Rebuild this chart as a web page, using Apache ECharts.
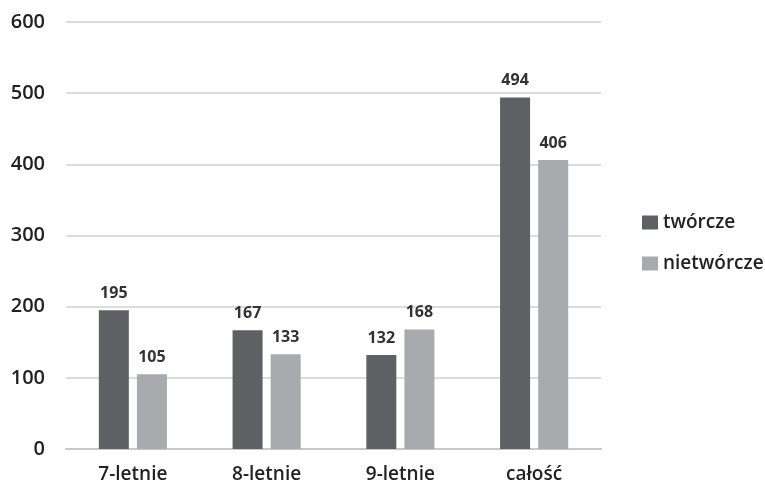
<!DOCTYPE html>
<html>
<head>
<meta charset="utf-8">
<script src="https://cdn.jsdelivr.net/npm/echarts@6/dist/echarts.min.js"></script>
<style>
  html, body { margin: 0; padding: 0; background: #fff; }
  #chart { width: 765px; height: 487px; }
</style>
</head>
<body>
<div id="chart"></div>
<script>
// Categories and values
const categories = ['7-letnie', '8-letnie', '9-letnie', 'całość'];
const tworcze = [195, 167, 132, 494];
const nietworcze = [105, 133, 168, 406];
const seriesNames = ['twórcze', 'nietwórcze'];
const yTicks = { min: 0, max: 600, interval: 100 };

const font = '"Open Sans", "Noto Sans", sans-serif';
const valueLabel = {
  show: true,
  position: 'top',
  distance: 9,
  fontFamily: font,
  fontSize: 16,
  fontWeight: 'bold',
  color: '#333'
};

const chart = echarts.init(document.getElementById('chart'));
chart.setOption({
  animation: false,
  backgroundColor: '#fff',
  grid: { left: 66, right: 164, top: 22, bottom: 38 },
  legend: {
    orient: 'vertical',
    left: 637,
    top: 208,
    itemWidth: 16,
    itemHeight: 14,
    itemGap: 22,
    icon: 'rect',
    textStyle: { fontFamily: font, fontSize: 19, fontWeight: 600, color: '#222' },
    data: seriesNames
  },
  xAxis: {
    type: 'category',
    data: categories,
    axisLine: { show: true, lineStyle: { color: '#c8c8c8', width: 2 } },
    axisTick: { show: false },
    axisLabel: { fontFamily: font, fontSize: 19, fontWeight: 600, color: '#222', margin: 16 }
  },
  yAxis: {
    type: 'value',
    min: yTicks.min,
    max: yTicks.max,
    interval: yTicks.interval,
    axisLine: { show: false },
    axisTick: { show: false },
    splitLine: { lineStyle: { color: '#dcdcdc', width: 2 } },
    axisLabel: { fontFamily: font, fontSize: 20, fontWeight: 600, color: '#222', margin: 21 }
  },
  series: [
    {
      name: seriesNames[0],
      type: 'bar',
      data: tworcze,
      barWidth: 30,
      barGap: '27%',
      itemStyle: { color: '#5f6064' },
      label: valueLabel
    },
    {
      name: seriesNames[1],
      type: 'bar',
      data: nietworcze,
      barWidth: 30,
      barGap: '27%',
      itemStyle: { color: '#a8aaad' },
      label: valueLabel
    }
  ]
});
</script>
</body>
</html>
